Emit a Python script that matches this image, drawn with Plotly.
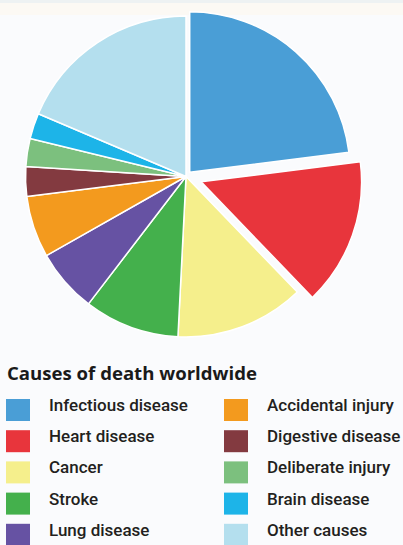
import plotly.graph_objects as go

# ---- data ----
causes = ["Infectious disease", "Heart disease", "Cancer", "Stroke", "Lung disease",
          "Accidental injury", "Digestive disease", "Deliberate injury", "Brain disease", "Other causes"]
shares = [23.0, 14.8, 13.0, 9.6, 6.4, 6.2, 3.0, 2.8, 2.6, 18.6]
colors = ["#4a9ed6", "#e8353c", "#f5ef8c", "#44b04c", "#6652a3",
          "#f39a1e", "#833a40", "#7cc07e", "#1db4e8", "#b4dfee"]
pulls = [0.035, 0.1, 0, 0, 0, 0, 0, 0, 0, 0]
title_text = "Causes of death worldwide"

W, H = 403, 545

fig = go.Figure()
fig.add_trace(go.Pie(
    labels=causes, values=shares, sort=False, direction="clockwise", rotation=0,
    marker=dict(colors=colors, line=dict(color="#ffffff", width=1.5)),
    pull=pulls, textinfo="none", hoverinfo="label+percent", showlegend=False,
    domain=dict(x=[9 / W, 363 / W], y=[192 / H, 1.0]),
))

# legend built from the data lists (two columns, column-wise order)
annotations = [dict(text="<b>" + title_text + "</b>", x=5, y=372, xref="x", yref="y",
                    xanchor="left", yanchor="middle", showarrow=False,
                    font=dict(family="Open Sans", size=18.6, color="#1a1a1a", weight=800))]
shapes = [dict(type="rect", xref="paper", yref="paper", x0=0, x1=1, y0=1 - 15 / H, y1=1,
               fillcolor="#fcf9f4", line=dict(width=0), layer="below"),
          dict(type="rect", xref="paper", yref="paper", x0=0, x1=1, y0=1 - 3 / H, y1=1,
               fillcolor="#eef2f3", line=dict(width=0), layer="below")]
n_rows = 5
for i, (lab, col) in enumerate(zip(causes, colors)):
    c, r = divmod(i, n_rows)
    sx = 6 if c == 0 else 224
    tx = 47 if c == 0 else 265
    cy = 410 + 31.2 * r
    shapes.append(dict(type="rect", xref="x", yref="y", x0=sx, x1=sx + 24, y0=cy - 11, y1=cy + 11,
                       fillcolor=col, line=dict(width=0)))
    annotations.append(dict(text=lab, x=tx, y=cy - 5, xref="x", yref="y", xanchor="left",
                            yanchor="middle", showarrow=False,
                            font=dict(family="Roboto", size=17, color="#231f20", weight=500)))

fig.update_layout(
    width=W, height=H, margin=dict(l=0, r=0, t=0, b=0),
    paper_bgcolor="#fafbfd", plot_bgcolor="rgba(0,0,0,0)",
    xaxis=dict(range=[0, W], visible=False, fixedrange=True),
    yaxis=dict(range=[H, 0], visible=False, fixedrange=True),
    shapes=shapes, annotations=annotations,
)
fig.write_html("out.html", config={"displayModeBar": False},
               post_script="document.body.style.margin='0';document.body.style.overflow='hidden';")
